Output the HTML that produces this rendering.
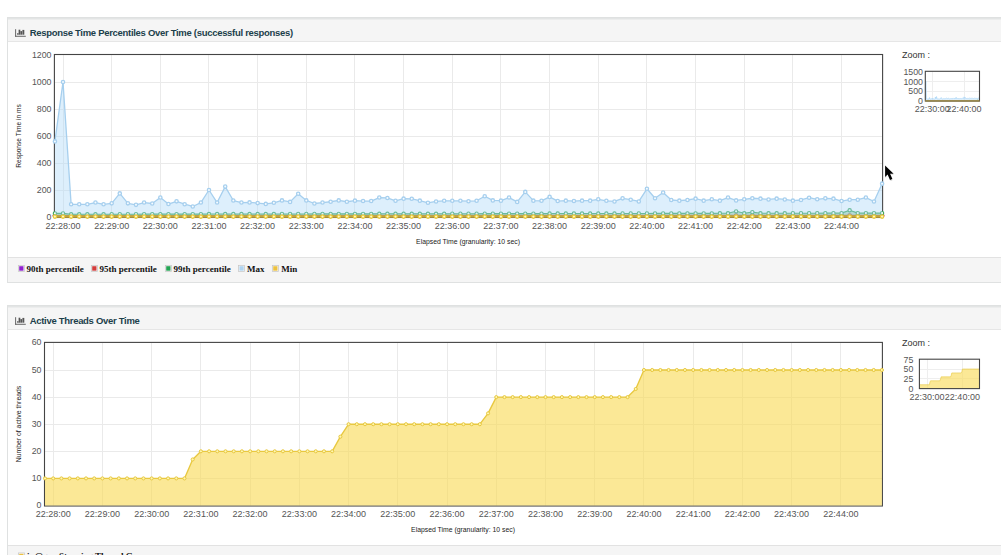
<!DOCTYPE html>
<html><head><meta charset="utf-8"><title>Dashboard</title>
<style>
html,body{margin:0;padding:0;}
body{width:1001px;height:555px;overflow:hidden;background:#fff;position:relative;font-family:"Liberation Sans",sans-serif;}
.panel{position:absolute;left:7px;width:1100px;border:1px solid #dfe1e1;box-sizing:border-box;background:#fff;}
.hd{position:absolute;left:0;right:0;top:0;height:22.5px;background:#f5f5f5;border-bottom:1px solid #e6e6e6;box-shadow:inset 0 1.5px 0 #e3e5e5;}
.ft{position:absolute;left:0;right:0;height:23.5px;background:#f5f5f5;border-top:1px solid #e2e2e2;}
.ttl{position:absolute;font-weight:bold;font-size:9.5px;letter-spacing:-0.30px;color:#1c3f4b;white-space:nowrap;line-height:12px;}
#c{position:absolute;left:0;top:0;}
.yt,.xt,.al,.zm,.lg{position:absolute;white-space:nowrap;line-height:11px;}
.yt{font-size:8.8px;color:#555;text-align:right;}
.xt{font-size:9px;color:#555;text-align:center;}
.al{font-size:6.85px;color:#222;line-height:8px;}
.rot{transform:translate(-50%,-50%) rotate(-90deg);font-size:6.6px;}
.zm{font-size:9px;color:#333;line-height:11px;}
.lg{font-family:"Liberation Serif",serif;font-weight:bold;font-size:9px;color:#111;line-height:11px;}
.sw{position:absolute;width:6.5px;height:6.5px;box-sizing:border-box;border:1px solid #ccc;padding:0.5px;background:#fff;}
.sw i{display:block;width:100%;height:100%;}
.ic{position:absolute;}
</style></head><body>
<div class="panel" style="top:17px;height:265.5px;"><div class="hd"></div><div class="ft" style="top:239px;"></div></div>
<div class="panel" style="top:305px;height:300px;"><div class="hd"></div><div class="ft" style="top:238.6px;"></div></div>

<div class="ttl" style="left:29.7px;top:27px;">Response Time Percentiles Over Time (successful responses)</div>

<div class="ttl" style="left:29.7px;top:315px;">Active Threads Over Time</div>
<svg id="c" width="1001" height="555" viewBox="0 0 1001 555">
<g stroke="#eaeaea" stroke-width="1">
<line x1="63.50" y1="55.00" x2="63.50" y2="217.00"/>
<line x1="111.50" y1="55.00" x2="111.50" y2="217.00"/>
<line x1="160.50" y1="55.00" x2="160.50" y2="217.00"/>
<line x1="208.50" y1="55.00" x2="208.50" y2="217.00"/>
<line x1="257.50" y1="55.00" x2="257.50" y2="217.00"/>
<line x1="306.50" y1="55.00" x2="306.50" y2="217.00"/>
<line x1="354.50" y1="55.00" x2="354.50" y2="217.00"/>
<line x1="403.50" y1="55.00" x2="403.50" y2="217.00"/>
<line x1="452.50" y1="55.00" x2="452.50" y2="217.00"/>
<line x1="500.50" y1="55.00" x2="500.50" y2="217.00"/>
<line x1="549.50" y1="55.00" x2="549.50" y2="217.00"/>
<line x1="598.50" y1="55.00" x2="598.50" y2="217.00"/>
<line x1="646.50" y1="55.00" x2="646.50" y2="217.00"/>
<line x1="695.50" y1="55.00" x2="695.50" y2="217.00"/>
<line x1="744.50" y1="55.00" x2="744.50" y2="217.00"/>
<line x1="792.50" y1="55.00" x2="792.50" y2="217.00"/>
<line x1="841.50" y1="55.00" x2="841.50" y2="217.00"/>
<line x1="54.90" y1="190.50" x2="882.10" y2="190.50"/>
<line x1="54.90" y1="163.50" x2="882.10" y2="163.50"/>
<line x1="54.90" y1="136.50" x2="882.10" y2="136.50"/>
<line x1="54.90" y1="109.50" x2="882.10" y2="109.50"/>
<line x1="54.90" y1="82.50" x2="882.10" y2="82.50"/>
</g>
<rect x="54.40" y="54.50" width="828.20" height="163.00" fill="none" stroke="#444" stroke-width="1.1"/>
<path d="M54.90 217.00 L54.90 215.78 L63.01 215.78 L71.12 215.91 L79.23 215.91 L87.34 215.90 L95.45 215.90 L103.56 215.89 L111.67 215.89 L119.78 215.88 L127.89 215.88 L136.00 215.87 L144.11 215.87 L152.22 215.86 L160.33 215.86 L168.44 215.85 L176.55 215.85 L184.66 215.84 L192.77 215.84 L200.88 215.83 L208.99 215.83 L217.10 215.82 L225.21 215.82 L233.32 215.82 L241.43 215.81 L249.54 215.81 L257.65 215.80 L265.75 215.80 L273.86 215.79 L281.97 215.79 L290.08 215.78 L298.19 215.78 L306.30 215.78 L314.41 215.78 L322.52 215.78 L330.63 215.78 L338.74 215.78 L346.85 215.78 L354.96 215.78 L363.07 215.78 L371.18 215.78 L379.29 215.78 L387.40 215.78 L395.51 215.78 L403.62 215.78 L411.73 215.78 L419.84 215.78 L427.95 215.78 L436.06 215.78 L444.17 215.78 L452.28 215.78 L460.39 215.78 L468.50 215.78 L476.61 215.78 L484.72 215.78 L492.83 215.78 L500.94 215.78 L509.05 215.78 L517.16 215.78 L525.27 215.78 L533.38 215.78 L541.49 215.78 L549.60 215.78 L557.71 215.78 L565.82 215.78 L573.93 215.78 L582.04 215.78 L590.15 215.78 L598.26 215.78 L606.37 215.78 L614.48 215.78 L622.59 215.78 L630.70 215.78 L638.81 215.78 L646.92 215.78 L655.03 215.78 L663.14 215.78 L671.25 215.78 L679.35 215.78 L687.46 215.78 L695.57 215.78 L703.68 215.78 L711.79 215.78 L719.90 215.78 L728.01 215.78 L736.12 215.78 L744.23 215.78 L752.34 215.78 L760.45 215.78 L768.56 215.78 L776.67 215.78 L784.78 215.78 L792.89 215.78 L801.00 215.78 L809.11 215.78 L817.22 215.78 L825.33 215.78 L833.44 215.78 L841.55 215.78 L849.66 215.78 L857.77 215.78 L865.88 215.78 L873.99 215.78 L882.10 215.78 L882.10 217.00 Z" fill="rgba(148,64,237,0.4)"/>
<path d="M54.90 215.78 L63.01 215.78 L71.12 215.91 L79.23 215.91 L87.34 215.90 L95.45 215.90 L103.56 215.89 L111.67 215.89 L119.78 215.88 L127.89 215.88 L136.00 215.87 L144.11 215.87 L152.22 215.86 L160.33 215.86 L168.44 215.85 L176.55 215.85 L184.66 215.84 L192.77 215.84 L200.88 215.83 L208.99 215.83 L217.10 215.82 L225.21 215.82 L233.32 215.82 L241.43 215.81 L249.54 215.81 L257.65 215.80 L265.75 215.80 L273.86 215.79 L281.97 215.79 L290.08 215.78 L298.19 215.78 L306.30 215.78 L314.41 215.78 L322.52 215.78 L330.63 215.78 L338.74 215.78 L346.85 215.78 L354.96 215.78 L363.07 215.78 L371.18 215.78 L379.29 215.78 L387.40 215.78 L395.51 215.78 L403.62 215.78 L411.73 215.78 L419.84 215.78 L427.95 215.78 L436.06 215.78 L444.17 215.78 L452.28 215.78 L460.39 215.78 L468.50 215.78 L476.61 215.78 L484.72 215.78 L492.83 215.78 L500.94 215.78 L509.05 215.78 L517.16 215.78 L525.27 215.78 L533.38 215.78 L541.49 215.78 L549.60 215.78 L557.71 215.78 L565.82 215.78 L573.93 215.78 L582.04 215.78 L590.15 215.78 L598.26 215.78 L606.37 215.78 L614.48 215.78 L622.59 215.78 L630.70 215.78 L638.81 215.78 L646.92 215.78 L655.03 215.78 L663.14 215.78 L671.25 215.78 L679.35 215.78 L687.46 215.78 L695.57 215.78 L703.68 215.78 L711.79 215.78 L719.90 215.78 L728.01 215.78 L736.12 215.78 L744.23 215.78 L752.34 215.78 L760.45 215.78 L768.56 215.78 L776.67 215.78 L784.78 215.78 L792.89 215.78 L801.00 215.78 L809.11 215.78 L817.22 215.78 L825.33 215.78 L833.44 215.78 L841.55 215.78 L849.66 215.78 L857.77 215.78 L865.88 215.78 L873.99 215.78 L882.10 215.78" fill="none" stroke="#9328dc" stroke-width="1.3" stroke-linejoin="round"/>
<g fill="#fff" stroke="#9328dc" stroke-width="1.3"><circle cx="54.90" cy="215.78" r="1.65"/><circle cx="63.01" cy="215.78" r="1.65"/><circle cx="71.12" cy="215.91" r="1.65"/><circle cx="79.23" cy="215.91" r="1.65"/><circle cx="87.34" cy="215.90" r="1.65"/><circle cx="95.45" cy="215.90" r="1.65"/><circle cx="103.56" cy="215.89" r="1.65"/><circle cx="111.67" cy="215.89" r="1.65"/><circle cx="119.78" cy="215.88" r="1.65"/><circle cx="127.89" cy="215.88" r="1.65"/><circle cx="136.00" cy="215.87" r="1.65"/><circle cx="144.11" cy="215.87" r="1.65"/><circle cx="152.22" cy="215.86" r="1.65"/><circle cx="160.33" cy="215.86" r="1.65"/><circle cx="168.44" cy="215.85" r="1.65"/><circle cx="176.55" cy="215.85" r="1.65"/><circle cx="184.66" cy="215.84" r="1.65"/><circle cx="192.77" cy="215.84" r="1.65"/><circle cx="200.88" cy="215.83" r="1.65"/><circle cx="208.99" cy="215.83" r="1.65"/><circle cx="217.10" cy="215.82" r="1.65"/><circle cx="225.21" cy="215.82" r="1.65"/><circle cx="233.32" cy="215.82" r="1.65"/><circle cx="241.43" cy="215.81" r="1.65"/><circle cx="249.54" cy="215.81" r="1.65"/><circle cx="257.65" cy="215.80" r="1.65"/><circle cx="265.75" cy="215.80" r="1.65"/><circle cx="273.86" cy="215.79" r="1.65"/><circle cx="281.97" cy="215.79" r="1.65"/><circle cx="290.08" cy="215.78" r="1.65"/><circle cx="298.19" cy="215.78" r="1.65"/><circle cx="306.30" cy="215.78" r="1.65"/><circle cx="314.41" cy="215.78" r="1.65"/><circle cx="322.52" cy="215.78" r="1.65"/><circle cx="330.63" cy="215.78" r="1.65"/><circle cx="338.74" cy="215.78" r="1.65"/><circle cx="346.85" cy="215.78" r="1.65"/><circle cx="354.96" cy="215.78" r="1.65"/><circle cx="363.07" cy="215.78" r="1.65"/><circle cx="371.18" cy="215.78" r="1.65"/><circle cx="379.29" cy="215.78" r="1.65"/><circle cx="387.40" cy="215.78" r="1.65"/><circle cx="395.51" cy="215.78" r="1.65"/><circle cx="403.62" cy="215.78" r="1.65"/><circle cx="411.73" cy="215.78" r="1.65"/><circle cx="419.84" cy="215.78" r="1.65"/><circle cx="427.95" cy="215.78" r="1.65"/><circle cx="436.06" cy="215.78" r="1.65"/><circle cx="444.17" cy="215.78" r="1.65"/><circle cx="452.28" cy="215.78" r="1.65"/><circle cx="460.39" cy="215.78" r="1.65"/><circle cx="468.50" cy="215.78" r="1.65"/><circle cx="476.61" cy="215.78" r="1.65"/><circle cx="484.72" cy="215.78" r="1.65"/><circle cx="492.83" cy="215.78" r="1.65"/><circle cx="500.94" cy="215.78" r="1.65"/><circle cx="509.05" cy="215.78" r="1.65"/><circle cx="517.16" cy="215.78" r="1.65"/><circle cx="525.27" cy="215.78" r="1.65"/><circle cx="533.38" cy="215.78" r="1.65"/><circle cx="541.49" cy="215.78" r="1.65"/><circle cx="549.60" cy="215.78" r="1.65"/><circle cx="557.71" cy="215.78" r="1.65"/><circle cx="565.82" cy="215.78" r="1.65"/><circle cx="573.93" cy="215.78" r="1.65"/><circle cx="582.04" cy="215.78" r="1.65"/><circle cx="590.15" cy="215.78" r="1.65"/><circle cx="598.26" cy="215.78" r="1.65"/><circle cx="606.37" cy="215.78" r="1.65"/><circle cx="614.48" cy="215.78" r="1.65"/><circle cx="622.59" cy="215.78" r="1.65"/><circle cx="630.70" cy="215.78" r="1.65"/><circle cx="638.81" cy="215.78" r="1.65"/><circle cx="646.92" cy="215.78" r="1.65"/><circle cx="655.03" cy="215.78" r="1.65"/><circle cx="663.14" cy="215.78" r="1.65"/><circle cx="671.25" cy="215.78" r="1.65"/><circle cx="679.35" cy="215.78" r="1.65"/><circle cx="687.46" cy="215.78" r="1.65"/><circle cx="695.57" cy="215.78" r="1.65"/><circle cx="703.68" cy="215.78" r="1.65"/><circle cx="711.79" cy="215.78" r="1.65"/><circle cx="719.90" cy="215.78" r="1.65"/><circle cx="728.01" cy="215.78" r="1.65"/><circle cx="736.12" cy="215.78" r="1.65"/><circle cx="744.23" cy="215.78" r="1.65"/><circle cx="752.34" cy="215.78" r="1.65"/><circle cx="760.45" cy="215.78" r="1.65"/><circle cx="768.56" cy="215.78" r="1.65"/><circle cx="776.67" cy="215.78" r="1.65"/><circle cx="784.78" cy="215.78" r="1.65"/><circle cx="792.89" cy="215.78" r="1.65"/><circle cx="801.00" cy="215.78" r="1.65"/><circle cx="809.11" cy="215.78" r="1.65"/><circle cx="817.22" cy="215.78" r="1.65"/><circle cx="825.33" cy="215.78" r="1.65"/><circle cx="833.44" cy="215.78" r="1.65"/><circle cx="841.55" cy="215.78" r="1.65"/><circle cx="849.66" cy="215.78" r="1.65"/><circle cx="857.77" cy="215.78" r="1.65"/><circle cx="865.88" cy="215.78" r="1.65"/><circle cx="873.99" cy="215.78" r="1.65"/><circle cx="882.10" cy="215.78" r="1.65"/></g>
<path d="M54.90 217.00 L54.90 215.51 L63.01 215.51 L71.12 215.64 L79.23 215.63 L87.34 215.63 L95.45 215.62 L103.56 215.61 L111.67 215.61 L119.78 215.60 L127.89 215.60 L136.00 215.59 L144.11 215.58 L152.22 215.58 L160.33 215.57 L168.44 215.57 L176.55 215.56 L184.66 215.55 L192.77 215.55 L200.88 215.54 L208.99 215.54 L217.10 215.53 L225.21 215.52 L233.32 215.52 L241.43 215.51 L249.54 215.51 L257.65 215.51 L265.75 215.51 L273.86 215.51 L281.97 215.51 L290.08 215.51 L298.19 215.51 L306.30 215.51 L314.41 215.51 L322.52 215.51 L330.63 215.51 L338.74 215.51 L346.85 215.51 L354.96 215.51 L363.07 215.51 L371.18 215.51 L379.29 215.51 L387.40 215.51 L395.51 215.51 L403.62 215.51 L411.73 215.51 L419.84 215.51 L427.95 215.51 L436.06 215.51 L444.17 215.51 L452.28 215.51 L460.39 215.51 L468.50 215.51 L476.61 215.51 L484.72 215.51 L492.83 215.51 L500.94 215.51 L509.05 215.51 L517.16 215.51 L525.27 215.51 L533.38 215.51 L541.49 215.51 L549.60 215.51 L557.71 215.51 L565.82 215.51 L573.93 215.51 L582.04 215.51 L590.15 215.51 L598.26 215.51 L606.37 215.51 L614.48 215.51 L622.59 215.51 L630.70 215.51 L638.81 215.51 L646.92 215.51 L655.03 215.51 L663.14 215.51 L671.25 215.51 L679.35 215.51 L687.46 215.51 L695.57 215.51 L703.68 215.51 L711.79 215.51 L719.90 215.51 L728.01 215.51 L736.12 215.51 L744.23 215.51 L752.34 215.51 L760.45 215.51 L768.56 215.51 L776.67 215.51 L784.78 215.51 L792.89 215.51 L801.00 215.51 L809.11 215.51 L817.22 215.51 L825.33 215.51 L833.44 215.51 L841.55 215.51 L849.66 215.51 L857.77 215.51 L865.88 215.51 L873.99 215.51 L882.10 215.51 L882.10 217.00 Z" fill="rgba(203,75,75,0.4)"/>
<path d="M54.90 215.51 L63.01 215.51 L71.12 215.64 L79.23 215.63 L87.34 215.63 L95.45 215.62 L103.56 215.61 L111.67 215.61 L119.78 215.60 L127.89 215.60 L136.00 215.59 L144.11 215.58 L152.22 215.58 L160.33 215.57 L168.44 215.57 L176.55 215.56 L184.66 215.55 L192.77 215.55 L200.88 215.54 L208.99 215.54 L217.10 215.53 L225.21 215.52 L233.32 215.52 L241.43 215.51 L249.54 215.51 L257.65 215.51 L265.75 215.51 L273.86 215.51 L281.97 215.51 L290.08 215.51 L298.19 215.51 L306.30 215.51 L314.41 215.51 L322.52 215.51 L330.63 215.51 L338.74 215.51 L346.85 215.51 L354.96 215.51 L363.07 215.51 L371.18 215.51 L379.29 215.51 L387.40 215.51 L395.51 215.51 L403.62 215.51 L411.73 215.51 L419.84 215.51 L427.95 215.51 L436.06 215.51 L444.17 215.51 L452.28 215.51 L460.39 215.51 L468.50 215.51 L476.61 215.51 L484.72 215.51 L492.83 215.51 L500.94 215.51 L509.05 215.51 L517.16 215.51 L525.27 215.51 L533.38 215.51 L541.49 215.51 L549.60 215.51 L557.71 215.51 L565.82 215.51 L573.93 215.51 L582.04 215.51 L590.15 215.51 L598.26 215.51 L606.37 215.51 L614.48 215.51 L622.59 215.51 L630.70 215.51 L638.81 215.51 L646.92 215.51 L655.03 215.51 L663.14 215.51 L671.25 215.51 L679.35 215.51 L687.46 215.51 L695.57 215.51 L703.68 215.51 L711.79 215.51 L719.90 215.51 L728.01 215.51 L736.12 215.51 L744.23 215.51 L752.34 215.51 L760.45 215.51 L768.56 215.51 L776.67 215.51 L784.78 215.51 L792.89 215.51 L801.00 215.51 L809.11 215.51 L817.22 215.51 L825.33 215.51 L833.44 215.51 L841.55 215.51 L849.66 215.51 L857.77 215.51 L865.88 215.51 L873.99 215.51 L882.10 215.51" fill="none" stroke="#d04545" stroke-width="1.3" stroke-linejoin="round"/>
<g fill="#fff" stroke="#d04545" stroke-width="1.3"><circle cx="54.90" cy="215.51" r="1.65"/><circle cx="63.01" cy="215.51" r="1.65"/><circle cx="71.12" cy="215.64" r="1.65"/><circle cx="79.23" cy="215.63" r="1.65"/><circle cx="87.34" cy="215.63" r="1.65"/><circle cx="95.45" cy="215.62" r="1.65"/><circle cx="103.56" cy="215.61" r="1.65"/><circle cx="111.67" cy="215.61" r="1.65"/><circle cx="119.78" cy="215.60" r="1.65"/><circle cx="127.89" cy="215.60" r="1.65"/><circle cx="136.00" cy="215.59" r="1.65"/><circle cx="144.11" cy="215.58" r="1.65"/><circle cx="152.22" cy="215.58" r="1.65"/><circle cx="160.33" cy="215.57" r="1.65"/><circle cx="168.44" cy="215.57" r="1.65"/><circle cx="176.55" cy="215.56" r="1.65"/><circle cx="184.66" cy="215.55" r="1.65"/><circle cx="192.77" cy="215.55" r="1.65"/><circle cx="200.88" cy="215.54" r="1.65"/><circle cx="208.99" cy="215.54" r="1.65"/><circle cx="217.10" cy="215.53" r="1.65"/><circle cx="225.21" cy="215.52" r="1.65"/><circle cx="233.32" cy="215.52" r="1.65"/><circle cx="241.43" cy="215.51" r="1.65"/><circle cx="249.54" cy="215.51" r="1.65"/><circle cx="257.65" cy="215.51" r="1.65"/><circle cx="265.75" cy="215.51" r="1.65"/><circle cx="273.86" cy="215.51" r="1.65"/><circle cx="281.97" cy="215.51" r="1.65"/><circle cx="290.08" cy="215.51" r="1.65"/><circle cx="298.19" cy="215.51" r="1.65"/><circle cx="306.30" cy="215.51" r="1.65"/><circle cx="314.41" cy="215.51" r="1.65"/><circle cx="322.52" cy="215.51" r="1.65"/><circle cx="330.63" cy="215.51" r="1.65"/><circle cx="338.74" cy="215.51" r="1.65"/><circle cx="346.85" cy="215.51" r="1.65"/><circle cx="354.96" cy="215.51" r="1.65"/><circle cx="363.07" cy="215.51" r="1.65"/><circle cx="371.18" cy="215.51" r="1.65"/><circle cx="379.29" cy="215.51" r="1.65"/><circle cx="387.40" cy="215.51" r="1.65"/><circle cx="395.51" cy="215.51" r="1.65"/><circle cx="403.62" cy="215.51" r="1.65"/><circle cx="411.73" cy="215.51" r="1.65"/><circle cx="419.84" cy="215.51" r="1.65"/><circle cx="427.95" cy="215.51" r="1.65"/><circle cx="436.06" cy="215.51" r="1.65"/><circle cx="444.17" cy="215.51" r="1.65"/><circle cx="452.28" cy="215.51" r="1.65"/><circle cx="460.39" cy="215.51" r="1.65"/><circle cx="468.50" cy="215.51" r="1.65"/><circle cx="476.61" cy="215.51" r="1.65"/><circle cx="484.72" cy="215.51" r="1.65"/><circle cx="492.83" cy="215.51" r="1.65"/><circle cx="500.94" cy="215.51" r="1.65"/><circle cx="509.05" cy="215.51" r="1.65"/><circle cx="517.16" cy="215.51" r="1.65"/><circle cx="525.27" cy="215.51" r="1.65"/><circle cx="533.38" cy="215.51" r="1.65"/><circle cx="541.49" cy="215.51" r="1.65"/><circle cx="549.60" cy="215.51" r="1.65"/><circle cx="557.71" cy="215.51" r="1.65"/><circle cx="565.82" cy="215.51" r="1.65"/><circle cx="573.93" cy="215.51" r="1.65"/><circle cx="582.04" cy="215.51" r="1.65"/><circle cx="590.15" cy="215.51" r="1.65"/><circle cx="598.26" cy="215.51" r="1.65"/><circle cx="606.37" cy="215.51" r="1.65"/><circle cx="614.48" cy="215.51" r="1.65"/><circle cx="622.59" cy="215.51" r="1.65"/><circle cx="630.70" cy="215.51" r="1.65"/><circle cx="638.81" cy="215.51" r="1.65"/><circle cx="646.92" cy="215.51" r="1.65"/><circle cx="655.03" cy="215.51" r="1.65"/><circle cx="663.14" cy="215.51" r="1.65"/><circle cx="671.25" cy="215.51" r="1.65"/><circle cx="679.35" cy="215.51" r="1.65"/><circle cx="687.46" cy="215.51" r="1.65"/><circle cx="695.57" cy="215.51" r="1.65"/><circle cx="703.68" cy="215.51" r="1.65"/><circle cx="711.79" cy="215.51" r="1.65"/><circle cx="719.90" cy="215.51" r="1.65"/><circle cx="728.01" cy="215.51" r="1.65"/><circle cx="736.12" cy="215.51" r="1.65"/><circle cx="744.23" cy="215.51" r="1.65"/><circle cx="752.34" cy="215.51" r="1.65"/><circle cx="760.45" cy="215.51" r="1.65"/><circle cx="768.56" cy="215.51" r="1.65"/><circle cx="776.67" cy="215.51" r="1.65"/><circle cx="784.78" cy="215.51" r="1.65"/><circle cx="792.89" cy="215.51" r="1.65"/><circle cx="801.00" cy="215.51" r="1.65"/><circle cx="809.11" cy="215.51" r="1.65"/><circle cx="817.22" cy="215.51" r="1.65"/><circle cx="825.33" cy="215.51" r="1.65"/><circle cx="833.44" cy="215.51" r="1.65"/><circle cx="841.55" cy="215.51" r="1.65"/><circle cx="849.66" cy="215.51" r="1.65"/><circle cx="857.77" cy="215.51" r="1.65"/><circle cx="865.88" cy="215.51" r="1.65"/><circle cx="873.99" cy="215.51" r="1.65"/><circle cx="882.10" cy="215.51" r="1.65"/></g>
<path d="M54.90 217.00 L54.90 213.35 L63.01 213.35 L71.12 214.28 L79.23 214.26 L87.34 214.25 L95.45 214.24 L103.56 214.23 L111.67 214.22 L119.78 214.20 L127.89 214.19 L136.00 214.18 L144.11 214.17 L152.22 214.16 L160.33 214.15 L168.44 214.13 L176.55 214.12 L184.66 214.11 L192.77 214.10 L200.88 214.09 L208.99 214.07 L217.10 214.06 L225.21 214.05 L233.32 214.04 L241.43 214.03 L249.54 214.01 L257.65 214.00 L265.75 213.99 L273.86 213.98 L281.97 213.97 L290.08 213.95 L298.19 213.94 L306.30 213.93 L314.41 213.92 L322.52 213.91 L330.63 213.90 L338.74 213.88 L346.85 213.87 L354.96 213.86 L363.07 213.85 L371.18 213.84 L379.29 213.82 L387.40 213.81 L395.51 213.80 L403.62 213.79 L411.73 213.78 L419.84 213.76 L427.95 213.75 L436.06 213.74 L444.17 213.73 L452.28 213.72 L460.39 213.70 L468.50 213.69 L476.61 213.68 L484.72 213.67 L492.83 213.66 L500.94 213.64 L509.05 213.63 L517.16 213.62 L525.27 213.61 L533.38 213.60 L541.49 213.59 L549.60 213.57 L557.71 213.56 L565.82 213.55 L573.93 213.54 L582.04 213.53 L590.15 213.51 L598.26 213.50 L606.37 213.49 L614.48 213.48 L622.59 213.47 L630.70 213.45 L638.81 213.44 L646.92 213.43 L655.03 213.42 L663.14 213.41 L671.25 213.39 L679.35 213.38 L687.46 213.37 L695.57 213.36 L703.68 213.35 L711.79 213.34 L719.90 213.32 L728.01 213.31 L736.12 211.33 L744.23 213.29 L752.34 212.14 L760.45 213.26 L768.56 213.25 L776.67 213.24 L784.78 213.23 L792.89 213.22 L801.00 213.20 L809.11 213.19 L817.22 213.18 L825.33 213.17 L833.44 213.16 L841.55 213.14 L849.66 210.25 L857.77 213.12 L865.88 213.11 L873.99 213.10 L882.10 213.09 L882.10 217.00 Z" fill="rgba(77,167,77,0.4)"/>
<path d="M54.90 213.35 L63.01 213.35 L71.12 214.28 L79.23 214.26 L87.34 214.25 L95.45 214.24 L103.56 214.23 L111.67 214.22 L119.78 214.20 L127.89 214.19 L136.00 214.18 L144.11 214.17 L152.22 214.16 L160.33 214.15 L168.44 214.13 L176.55 214.12 L184.66 214.11 L192.77 214.10 L200.88 214.09 L208.99 214.07 L217.10 214.06 L225.21 214.05 L233.32 214.04 L241.43 214.03 L249.54 214.01 L257.65 214.00 L265.75 213.99 L273.86 213.98 L281.97 213.97 L290.08 213.95 L298.19 213.94 L306.30 213.93 L314.41 213.92 L322.52 213.91 L330.63 213.90 L338.74 213.88 L346.85 213.87 L354.96 213.86 L363.07 213.85 L371.18 213.84 L379.29 213.82 L387.40 213.81 L395.51 213.80 L403.62 213.79 L411.73 213.78 L419.84 213.76 L427.95 213.75 L436.06 213.74 L444.17 213.73 L452.28 213.72 L460.39 213.70 L468.50 213.69 L476.61 213.68 L484.72 213.67 L492.83 213.66 L500.94 213.64 L509.05 213.63 L517.16 213.62 L525.27 213.61 L533.38 213.60 L541.49 213.59 L549.60 213.57 L557.71 213.56 L565.82 213.55 L573.93 213.54 L582.04 213.53 L590.15 213.51 L598.26 213.50 L606.37 213.49 L614.48 213.48 L622.59 213.47 L630.70 213.45 L638.81 213.44 L646.92 213.43 L655.03 213.42 L663.14 213.41 L671.25 213.39 L679.35 213.38 L687.46 213.37 L695.57 213.36 L703.68 213.35 L711.79 213.34 L719.90 213.32 L728.01 213.31 L736.12 211.33 L744.23 213.29 L752.34 212.14 L760.45 213.26 L768.56 213.25 L776.67 213.24 L784.78 213.23 L792.89 213.22 L801.00 213.20 L809.11 213.19 L817.22 213.18 L825.33 213.17 L833.44 213.16 L841.55 213.14 L849.66 210.25 L857.77 213.12 L865.88 213.11 L873.99 213.10 L882.10 213.09" fill="none" stroke="#3aa557" stroke-width="1.1" stroke-linejoin="round"/>
<g fill="#fff" stroke="#3aa557" stroke-width="1.1"><circle cx="54.90" cy="213.35" r="1.65"/><circle cx="63.01" cy="213.35" r="1.65"/><circle cx="71.12" cy="214.28" r="1.65"/><circle cx="79.23" cy="214.26" r="1.65"/><circle cx="87.34" cy="214.25" r="1.65"/><circle cx="95.45" cy="214.24" r="1.65"/><circle cx="103.56" cy="214.23" r="1.65"/><circle cx="111.67" cy="214.22" r="1.65"/><circle cx="119.78" cy="214.20" r="1.65"/><circle cx="127.89" cy="214.19" r="1.65"/><circle cx="136.00" cy="214.18" r="1.65"/><circle cx="144.11" cy="214.17" r="1.65"/><circle cx="152.22" cy="214.16" r="1.65"/><circle cx="160.33" cy="214.15" r="1.65"/><circle cx="168.44" cy="214.13" r="1.65"/><circle cx="176.55" cy="214.12" r="1.65"/><circle cx="184.66" cy="214.11" r="1.65"/><circle cx="192.77" cy="214.10" r="1.65"/><circle cx="200.88" cy="214.09" r="1.65"/><circle cx="208.99" cy="214.07" r="1.65"/><circle cx="217.10" cy="214.06" r="1.65"/><circle cx="225.21" cy="214.05" r="1.65"/><circle cx="233.32" cy="214.04" r="1.65"/><circle cx="241.43" cy="214.03" r="1.65"/><circle cx="249.54" cy="214.01" r="1.65"/><circle cx="257.65" cy="214.00" r="1.65"/><circle cx="265.75" cy="213.99" r="1.65"/><circle cx="273.86" cy="213.98" r="1.65"/><circle cx="281.97" cy="213.97" r="1.65"/><circle cx="290.08" cy="213.95" r="1.65"/><circle cx="298.19" cy="213.94" r="1.65"/><circle cx="306.30" cy="213.93" r="1.65"/><circle cx="314.41" cy="213.92" r="1.65"/><circle cx="322.52" cy="213.91" r="1.65"/><circle cx="330.63" cy="213.90" r="1.65"/><circle cx="338.74" cy="213.88" r="1.65"/><circle cx="346.85" cy="213.87" r="1.65"/><circle cx="354.96" cy="213.86" r="1.65"/><circle cx="363.07" cy="213.85" r="1.65"/><circle cx="371.18" cy="213.84" r="1.65"/><circle cx="379.29" cy="213.82" r="1.65"/><circle cx="387.40" cy="213.81" r="1.65"/><circle cx="395.51" cy="213.80" r="1.65"/><circle cx="403.62" cy="213.79" r="1.65"/><circle cx="411.73" cy="213.78" r="1.65"/><circle cx="419.84" cy="213.76" r="1.65"/><circle cx="427.95" cy="213.75" r="1.65"/><circle cx="436.06" cy="213.74" r="1.65"/><circle cx="444.17" cy="213.73" r="1.65"/><circle cx="452.28" cy="213.72" r="1.65"/><circle cx="460.39" cy="213.70" r="1.65"/><circle cx="468.50" cy="213.69" r="1.65"/><circle cx="476.61" cy="213.68" r="1.65"/><circle cx="484.72" cy="213.67" r="1.65"/><circle cx="492.83" cy="213.66" r="1.65"/><circle cx="500.94" cy="213.64" r="1.65"/><circle cx="509.05" cy="213.63" r="1.65"/><circle cx="517.16" cy="213.62" r="1.65"/><circle cx="525.27" cy="213.61" r="1.65"/><circle cx="533.38" cy="213.60" r="1.65"/><circle cx="541.49" cy="213.59" r="1.65"/><circle cx="549.60" cy="213.57" r="1.65"/><circle cx="557.71" cy="213.56" r="1.65"/><circle cx="565.82" cy="213.55" r="1.65"/><circle cx="573.93" cy="213.54" r="1.65"/><circle cx="582.04" cy="213.53" r="1.65"/><circle cx="590.15" cy="213.51" r="1.65"/><circle cx="598.26" cy="213.50" r="1.65"/><circle cx="606.37" cy="213.49" r="1.65"/><circle cx="614.48" cy="213.48" r="1.65"/><circle cx="622.59" cy="213.47" r="1.65"/><circle cx="630.70" cy="213.45" r="1.65"/><circle cx="638.81" cy="213.44" r="1.65"/><circle cx="646.92" cy="213.43" r="1.65"/><circle cx="655.03" cy="213.42" r="1.65"/><circle cx="663.14" cy="213.41" r="1.65"/><circle cx="671.25" cy="213.39" r="1.65"/><circle cx="679.35" cy="213.38" r="1.65"/><circle cx="687.46" cy="213.37" r="1.65"/><circle cx="695.57" cy="213.36" r="1.65"/><circle cx="703.68" cy="213.35" r="1.65"/><circle cx="711.79" cy="213.34" r="1.65"/><circle cx="719.90" cy="213.32" r="1.65"/><circle cx="728.01" cy="213.31" r="1.65"/><circle cx="736.12" cy="211.33" r="1.65"/><circle cx="744.23" cy="213.29" r="1.65"/><circle cx="752.34" cy="212.14" r="1.65"/><circle cx="760.45" cy="213.26" r="1.65"/><circle cx="768.56" cy="213.25" r="1.65"/><circle cx="776.67" cy="213.24" r="1.65"/><circle cx="784.78" cy="213.23" r="1.65"/><circle cx="792.89" cy="213.22" r="1.65"/><circle cx="801.00" cy="213.20" r="1.65"/><circle cx="809.11" cy="213.19" r="1.65"/><circle cx="817.22" cy="213.18" r="1.65"/><circle cx="825.33" cy="213.17" r="1.65"/><circle cx="833.44" cy="213.16" r="1.65"/><circle cx="841.55" cy="213.14" r="1.65"/><circle cx="849.66" cy="210.25" r="1.65"/><circle cx="857.77" cy="213.12" r="1.65"/><circle cx="865.88" cy="213.11" r="1.65"/><circle cx="873.99" cy="213.10" r="1.65"/><circle cx="882.10" cy="213.09" r="1.65"/></g>
<path d="M54.90 217.00 L54.90 141.40 L63.01 82.00 L71.12 204.31 L79.23 204.31 L87.34 204.31 L95.45 202.56 L103.56 204.31 L111.67 203.37 L119.78 193.38 L127.89 203.37 L136.00 204.85 L144.11 202.56 L152.22 203.50 L160.33 197.56 L168.44 204.04 L176.55 201.34 L184.66 204.18 L192.77 206.47 L200.88 202.56 L208.99 190.00 L217.10 202.56 L225.21 186.62 L233.32 200.53 L241.43 202.56 L249.54 202.42 L257.65 203.09 L265.75 203.91 L273.86 202.82 L281.97 200.40 L290.08 201.88 L298.19 193.78 L306.30 200.40 L314.41 203.50 L322.52 202.56 L330.63 201.75 L338.74 200.40 L346.85 201.75 L354.96 200.66 L363.07 201.07 L371.18 201.07 L379.29 197.56 L387.40 197.97 L395.51 200.80 L403.62 198.64 L411.73 198.78 L419.84 200.66 L427.95 202.82 L436.06 201.47 L444.17 200.80 L452.28 200.80 L460.39 200.80 L468.50 201.21 L476.61 200.80 L484.72 196.21 L492.83 200.40 L500.94 200.66 L509.05 197.56 L517.16 201.88 L525.27 191.89 L533.38 200.66 L541.49 200.80 L549.60 196.88 L557.71 201.07 L565.82 200.66 L573.93 201.07 L582.04 200.66 L590.15 200.66 L598.26 199.31 L606.37 200.80 L614.48 201.47 L622.59 198.37 L630.70 199.72 L638.81 201.47 L646.92 188.78 L655.03 198.24 L663.14 192.56 L671.25 199.99 L679.35 200.66 L687.46 199.99 L695.57 198.64 L703.68 200.66 L711.79 199.31 L719.90 200.66 L728.01 197.56 L736.12 200.40 L744.23 199.31 L752.34 198.24 L760.45 198.64 L768.56 199.45 L776.67 198.64 L784.78 199.45 L792.89 200.66 L801.00 199.99 L809.11 197.69 L817.22 199.31 L825.33 198.37 L833.44 198.64 L841.55 201.07 L849.66 199.72 L857.77 199.72 L865.88 197.56 L873.99 201.47 L882.10 183.66 L882.10 217.00 Z" fill="rgba(175,216,248,0.42)"/>
<path d="M54.90 141.40 L63.01 82.00 L71.12 204.31 L79.23 204.31 L87.34 204.31 L95.45 202.56 L103.56 204.31 L111.67 203.37 L119.78 193.38 L127.89 203.37 L136.00 204.85 L144.11 202.56 L152.22 203.50 L160.33 197.56 L168.44 204.04 L176.55 201.34 L184.66 204.18 L192.77 206.47 L200.88 202.56 L208.99 190.00 L217.10 202.56 L225.21 186.62 L233.32 200.53 L241.43 202.56 L249.54 202.42 L257.65 203.09 L265.75 203.91 L273.86 202.82 L281.97 200.40 L290.08 201.88 L298.19 193.78 L306.30 200.40 L314.41 203.50 L322.52 202.56 L330.63 201.75 L338.74 200.40 L346.85 201.75 L354.96 200.66 L363.07 201.07 L371.18 201.07 L379.29 197.56 L387.40 197.97 L395.51 200.80 L403.62 198.64 L411.73 198.78 L419.84 200.66 L427.95 202.82 L436.06 201.47 L444.17 200.80 L452.28 200.80 L460.39 200.80 L468.50 201.21 L476.61 200.80 L484.72 196.21 L492.83 200.40 L500.94 200.66 L509.05 197.56 L517.16 201.88 L525.27 191.89 L533.38 200.66 L541.49 200.80 L549.60 196.88 L557.71 201.07 L565.82 200.66 L573.93 201.07 L582.04 200.66 L590.15 200.66 L598.26 199.31 L606.37 200.80 L614.48 201.47 L622.59 198.37 L630.70 199.72 L638.81 201.47 L646.92 188.78 L655.03 198.24 L663.14 192.56 L671.25 199.99 L679.35 200.66 L687.46 199.99 L695.57 198.64 L703.68 200.66 L711.79 199.31 L719.90 200.66 L728.01 197.56 L736.12 200.40 L744.23 199.31 L752.34 198.24 L760.45 198.64 L768.56 199.45 L776.67 198.64 L784.78 199.45 L792.89 200.66 L801.00 199.99 L809.11 197.69 L817.22 199.31 L825.33 198.37 L833.44 198.64 L841.55 201.07 L849.66 199.72 L857.77 199.72 L865.88 197.56 L873.99 201.47 L882.10 183.66" fill="none" stroke="#a6cfee" stroke-width="1.3" stroke-linejoin="round"/>
<g fill="#f6fbff" stroke="#a6cfee" stroke-width="1.3"><circle cx="54.90" cy="141.40" r="1.65"/><circle cx="63.01" cy="82.00" r="1.65"/><circle cx="71.12" cy="204.31" r="1.65"/><circle cx="79.23" cy="204.31" r="1.65"/><circle cx="87.34" cy="204.31" r="1.65"/><circle cx="95.45" cy="202.56" r="1.65"/><circle cx="103.56" cy="204.31" r="1.65"/><circle cx="111.67" cy="203.37" r="1.65"/><circle cx="119.78" cy="193.38" r="1.65"/><circle cx="127.89" cy="203.37" r="1.65"/><circle cx="136.00" cy="204.85" r="1.65"/><circle cx="144.11" cy="202.56" r="1.65"/><circle cx="152.22" cy="203.50" r="1.65"/><circle cx="160.33" cy="197.56" r="1.65"/><circle cx="168.44" cy="204.04" r="1.65"/><circle cx="176.55" cy="201.34" r="1.65"/><circle cx="184.66" cy="204.18" r="1.65"/><circle cx="192.77" cy="206.47" r="1.65"/><circle cx="200.88" cy="202.56" r="1.65"/><circle cx="208.99" cy="190.00" r="1.65"/><circle cx="217.10" cy="202.56" r="1.65"/><circle cx="225.21" cy="186.62" r="1.65"/><circle cx="233.32" cy="200.53" r="1.65"/><circle cx="241.43" cy="202.56" r="1.65"/><circle cx="249.54" cy="202.42" r="1.65"/><circle cx="257.65" cy="203.09" r="1.65"/><circle cx="265.75" cy="203.91" r="1.65"/><circle cx="273.86" cy="202.82" r="1.65"/><circle cx="281.97" cy="200.40" r="1.65"/><circle cx="290.08" cy="201.88" r="1.65"/><circle cx="298.19" cy="193.78" r="1.65"/><circle cx="306.30" cy="200.40" r="1.65"/><circle cx="314.41" cy="203.50" r="1.65"/><circle cx="322.52" cy="202.56" r="1.65"/><circle cx="330.63" cy="201.75" r="1.65"/><circle cx="338.74" cy="200.40" r="1.65"/><circle cx="346.85" cy="201.75" r="1.65"/><circle cx="354.96" cy="200.66" r="1.65"/><circle cx="363.07" cy="201.07" r="1.65"/><circle cx="371.18" cy="201.07" r="1.65"/><circle cx="379.29" cy="197.56" r="1.65"/><circle cx="387.40" cy="197.97" r="1.65"/><circle cx="395.51" cy="200.80" r="1.65"/><circle cx="403.62" cy="198.64" r="1.65"/><circle cx="411.73" cy="198.78" r="1.65"/><circle cx="419.84" cy="200.66" r="1.65"/><circle cx="427.95" cy="202.82" r="1.65"/><circle cx="436.06" cy="201.47" r="1.65"/><circle cx="444.17" cy="200.80" r="1.65"/><circle cx="452.28" cy="200.80" r="1.65"/><circle cx="460.39" cy="200.80" r="1.65"/><circle cx="468.50" cy="201.21" r="1.65"/><circle cx="476.61" cy="200.80" r="1.65"/><circle cx="484.72" cy="196.21" r="1.65"/><circle cx="492.83" cy="200.40" r="1.65"/><circle cx="500.94" cy="200.66" r="1.65"/><circle cx="509.05" cy="197.56" r="1.65"/><circle cx="517.16" cy="201.88" r="1.65"/><circle cx="525.27" cy="191.89" r="1.65"/><circle cx="533.38" cy="200.66" r="1.65"/><circle cx="541.49" cy="200.80" r="1.65"/><circle cx="549.60" cy="196.88" r="1.65"/><circle cx="557.71" cy="201.07" r="1.65"/><circle cx="565.82" cy="200.66" r="1.65"/><circle cx="573.93" cy="201.07" r="1.65"/><circle cx="582.04" cy="200.66" r="1.65"/><circle cx="590.15" cy="200.66" r="1.65"/><circle cx="598.26" cy="199.31" r="1.65"/><circle cx="606.37" cy="200.80" r="1.65"/><circle cx="614.48" cy="201.47" r="1.65"/><circle cx="622.59" cy="198.37" r="1.65"/><circle cx="630.70" cy="199.72" r="1.65"/><circle cx="638.81" cy="201.47" r="1.65"/><circle cx="646.92" cy="188.78" r="1.65"/><circle cx="655.03" cy="198.24" r="1.65"/><circle cx="663.14" cy="192.56" r="1.65"/><circle cx="671.25" cy="199.99" r="1.65"/><circle cx="679.35" cy="200.66" r="1.65"/><circle cx="687.46" cy="199.99" r="1.65"/><circle cx="695.57" cy="198.64" r="1.65"/><circle cx="703.68" cy="200.66" r="1.65"/><circle cx="711.79" cy="199.31" r="1.65"/><circle cx="719.90" cy="200.66" r="1.65"/><circle cx="728.01" cy="197.56" r="1.65"/><circle cx="736.12" cy="200.40" r="1.65"/><circle cx="744.23" cy="199.31" r="1.65"/><circle cx="752.34" cy="198.24" r="1.65"/><circle cx="760.45" cy="198.64" r="1.65"/><circle cx="768.56" cy="199.45" r="1.65"/><circle cx="776.67" cy="198.64" r="1.65"/><circle cx="784.78" cy="199.45" r="1.65"/><circle cx="792.89" cy="200.66" r="1.65"/><circle cx="801.00" cy="199.99" r="1.65"/><circle cx="809.11" cy="197.69" r="1.65"/><circle cx="817.22" cy="199.31" r="1.65"/><circle cx="825.33" cy="198.37" r="1.65"/><circle cx="833.44" cy="198.64" r="1.65"/><circle cx="841.55" cy="201.07" r="1.65"/><circle cx="849.66" cy="199.72" r="1.65"/><circle cx="857.77" cy="199.72" r="1.65"/><circle cx="865.88" cy="197.56" r="1.65"/><circle cx="873.99" cy="201.47" r="1.65"/><circle cx="882.10" cy="183.66" r="1.65"/></g>
<path d="M54.90 217.00 L54.90 216.59 L63.01 216.59 L71.12 216.59 L79.23 216.59 L87.34 216.59 L95.45 216.59 L103.56 216.59 L111.67 216.59 L119.78 216.59 L127.89 216.59 L136.00 216.59 L144.11 216.59 L152.22 216.59 L160.33 216.59 L168.44 216.59 L176.55 216.59 L184.66 216.59 L192.77 216.59 L200.88 216.59 L208.99 216.59 L217.10 216.59 L225.21 216.59 L233.32 216.59 L241.43 216.59 L249.54 216.59 L257.65 216.59 L265.75 216.59 L273.86 216.59 L281.97 216.59 L290.08 216.59 L298.19 216.59 L306.30 216.59 L314.41 216.59 L322.52 216.59 L330.63 216.59 L338.74 216.59 L346.85 216.59 L354.96 216.59 L363.07 216.59 L371.18 216.59 L379.29 216.59 L387.40 216.59 L395.51 216.59 L403.62 216.59 L411.73 216.59 L419.84 216.59 L427.95 216.59 L436.06 216.59 L444.17 216.59 L452.28 216.59 L460.39 216.59 L468.50 216.59 L476.61 216.59 L484.72 216.59 L492.83 216.59 L500.94 216.59 L509.05 216.59 L517.16 216.59 L525.27 216.59 L533.38 216.59 L541.49 216.59 L549.60 216.59 L557.71 216.59 L565.82 216.59 L573.93 216.59 L582.04 216.59 L590.15 216.59 L598.26 216.59 L606.37 216.59 L614.48 216.59 L622.59 216.59 L630.70 216.59 L638.81 216.59 L646.92 216.59 L655.03 216.59 L663.14 216.59 L671.25 216.59 L679.35 216.59 L687.46 216.59 L695.57 216.59 L703.68 216.59 L711.79 216.59 L719.90 216.59 L728.01 216.59 L736.12 216.59 L744.23 216.59 L752.34 216.59 L760.45 216.59 L768.56 216.59 L776.67 216.59 L784.78 216.59 L792.89 216.59 L801.00 216.59 L809.11 216.59 L817.22 216.59 L825.33 216.59 L833.44 216.59 L841.55 216.59 L849.66 216.59 L857.77 216.59 L865.88 216.59 L873.99 216.59 L882.10 216.59 L882.10 217.00 Z" fill="rgba(237,194,64,0.4)"/>
<path d="M54.90 216.59 L63.01 216.59 L71.12 216.59 L79.23 216.59 L87.34 216.59 L95.45 216.59 L103.56 216.59 L111.67 216.59 L119.78 216.59 L127.89 216.59 L136.00 216.59 L144.11 216.59 L152.22 216.59 L160.33 216.59 L168.44 216.59 L176.55 216.59 L184.66 216.59 L192.77 216.59 L200.88 216.59 L208.99 216.59 L217.10 216.59 L225.21 216.59 L233.32 216.59 L241.43 216.59 L249.54 216.59 L257.65 216.59 L265.75 216.59 L273.86 216.59 L281.97 216.59 L290.08 216.59 L298.19 216.59 L306.30 216.59 L314.41 216.59 L322.52 216.59 L330.63 216.59 L338.74 216.59 L346.85 216.59 L354.96 216.59 L363.07 216.59 L371.18 216.59 L379.29 216.59 L387.40 216.59 L395.51 216.59 L403.62 216.59 L411.73 216.59 L419.84 216.59 L427.95 216.59 L436.06 216.59 L444.17 216.59 L452.28 216.59 L460.39 216.59 L468.50 216.59 L476.61 216.59 L484.72 216.59 L492.83 216.59 L500.94 216.59 L509.05 216.59 L517.16 216.59 L525.27 216.59 L533.38 216.59 L541.49 216.59 L549.60 216.59 L557.71 216.59 L565.82 216.59 L573.93 216.59 L582.04 216.59 L590.15 216.59 L598.26 216.59 L606.37 216.59 L614.48 216.59 L622.59 216.59 L630.70 216.59 L638.81 216.59 L646.92 216.59 L655.03 216.59 L663.14 216.59 L671.25 216.59 L679.35 216.59 L687.46 216.59 L695.57 216.59 L703.68 216.59 L711.79 216.59 L719.90 216.59 L728.01 216.59 L736.12 216.59 L744.23 216.59 L752.34 216.59 L760.45 216.59 L768.56 216.59 L776.67 216.59 L784.78 216.59 L792.89 216.59 L801.00 216.59 L809.11 216.59 L817.22 216.59 L825.33 216.59 L833.44 216.59 L841.55 216.59 L849.66 216.59 L857.77 216.59 L865.88 216.59 L873.99 216.59 L882.10 216.59" fill="none" stroke="#c4a638" stroke-width="2.5" stroke-linejoin="round"/>
<g fill="#fff6c0" stroke="#e8c83a" stroke-width="1.2"><circle cx="54.90" cy="216.59" r="1.7"/><circle cx="63.01" cy="216.59" r="1.7"/><circle cx="71.12" cy="216.59" r="1.7"/><circle cx="79.23" cy="216.59" r="1.7"/><circle cx="87.34" cy="216.59" r="1.7"/><circle cx="95.45" cy="216.59" r="1.7"/><circle cx="103.56" cy="216.59" r="1.7"/><circle cx="111.67" cy="216.59" r="1.7"/><circle cx="119.78" cy="216.59" r="1.7"/><circle cx="127.89" cy="216.59" r="1.7"/><circle cx="136.00" cy="216.59" r="1.7"/><circle cx="144.11" cy="216.59" r="1.7"/><circle cx="152.22" cy="216.59" r="1.7"/><circle cx="160.33" cy="216.59" r="1.7"/><circle cx="168.44" cy="216.59" r="1.7"/><circle cx="176.55" cy="216.59" r="1.7"/><circle cx="184.66" cy="216.59" r="1.7"/><circle cx="192.77" cy="216.59" r="1.7"/><circle cx="200.88" cy="216.59" r="1.7"/><circle cx="208.99" cy="216.59" r="1.7"/><circle cx="217.10" cy="216.59" r="1.7"/><circle cx="225.21" cy="216.59" r="1.7"/><circle cx="233.32" cy="216.59" r="1.7"/><circle cx="241.43" cy="216.59" r="1.7"/><circle cx="249.54" cy="216.59" r="1.7"/><circle cx="257.65" cy="216.59" r="1.7"/><circle cx="265.75" cy="216.59" r="1.7"/><circle cx="273.86" cy="216.59" r="1.7"/><circle cx="281.97" cy="216.59" r="1.7"/><circle cx="290.08" cy="216.59" r="1.7"/><circle cx="298.19" cy="216.59" r="1.7"/><circle cx="306.30" cy="216.59" r="1.7"/><circle cx="314.41" cy="216.59" r="1.7"/><circle cx="322.52" cy="216.59" r="1.7"/><circle cx="330.63" cy="216.59" r="1.7"/><circle cx="338.74" cy="216.59" r="1.7"/><circle cx="346.85" cy="216.59" r="1.7"/><circle cx="354.96" cy="216.59" r="1.7"/><circle cx="363.07" cy="216.59" r="1.7"/><circle cx="371.18" cy="216.59" r="1.7"/><circle cx="379.29" cy="216.59" r="1.7"/><circle cx="387.40" cy="216.59" r="1.7"/><circle cx="395.51" cy="216.59" r="1.7"/><circle cx="403.62" cy="216.59" r="1.7"/><circle cx="411.73" cy="216.59" r="1.7"/><circle cx="419.84" cy="216.59" r="1.7"/><circle cx="427.95" cy="216.59" r="1.7"/><circle cx="436.06" cy="216.59" r="1.7"/><circle cx="444.17" cy="216.59" r="1.7"/><circle cx="452.28" cy="216.59" r="1.7"/><circle cx="460.39" cy="216.59" r="1.7"/><circle cx="468.50" cy="216.59" r="1.7"/><circle cx="476.61" cy="216.59" r="1.7"/><circle cx="484.72" cy="216.59" r="1.7"/><circle cx="492.83" cy="216.59" r="1.7"/><circle cx="500.94" cy="216.59" r="1.7"/><circle cx="509.05" cy="216.59" r="1.7"/><circle cx="517.16" cy="216.59" r="1.7"/><circle cx="525.27" cy="216.59" r="1.7"/><circle cx="533.38" cy="216.59" r="1.7"/><circle cx="541.49" cy="216.59" r="1.7"/><circle cx="549.60" cy="216.59" r="1.7"/><circle cx="557.71" cy="216.59" r="1.7"/><circle cx="565.82" cy="216.59" r="1.7"/><circle cx="573.93" cy="216.59" r="1.7"/><circle cx="582.04" cy="216.59" r="1.7"/><circle cx="590.15" cy="216.59" r="1.7"/><circle cx="598.26" cy="216.59" r="1.7"/><circle cx="606.37" cy="216.59" r="1.7"/><circle cx="614.48" cy="216.59" r="1.7"/><circle cx="622.59" cy="216.59" r="1.7"/><circle cx="630.70" cy="216.59" r="1.7"/><circle cx="638.81" cy="216.59" r="1.7"/><circle cx="646.92" cy="216.59" r="1.7"/><circle cx="655.03" cy="216.59" r="1.7"/><circle cx="663.14" cy="216.59" r="1.7"/><circle cx="671.25" cy="216.59" r="1.7"/><circle cx="679.35" cy="216.59" r="1.7"/><circle cx="687.46" cy="216.59" r="1.7"/><circle cx="695.57" cy="216.59" r="1.7"/><circle cx="703.68" cy="216.59" r="1.7"/><circle cx="711.79" cy="216.59" r="1.7"/><circle cx="719.90" cy="216.59" r="1.7"/><circle cx="728.01" cy="216.59" r="1.7"/><circle cx="736.12" cy="216.59" r="1.7"/><circle cx="744.23" cy="216.59" r="1.7"/><circle cx="752.34" cy="216.59" r="1.7"/><circle cx="760.45" cy="216.59" r="1.7"/><circle cx="768.56" cy="216.59" r="1.7"/><circle cx="776.67" cy="216.59" r="1.7"/><circle cx="784.78" cy="216.59" r="1.7"/><circle cx="792.89" cy="216.59" r="1.7"/><circle cx="801.00" cy="216.59" r="1.7"/><circle cx="809.11" cy="216.59" r="1.7"/><circle cx="817.22" cy="216.59" r="1.7"/><circle cx="825.33" cy="216.59" r="1.7"/><circle cx="833.44" cy="216.59" r="1.7"/><circle cx="841.55" cy="216.59" r="1.7"/><circle cx="849.66" cy="216.59" r="1.7"/><circle cx="857.77" cy="216.59" r="1.7"/><circle cx="865.88" cy="216.59" r="1.7"/><circle cx="873.99" cy="216.59" r="1.7"/><circle cx="882.10" cy="216.59" r="1.7"/></g>
<g stroke="#eaeaea" stroke-width="1">
<line x1="53.50" y1="342.90" x2="53.50" y2="505.50"/>
<line x1="102.50" y1="342.90" x2="102.50" y2="505.50"/>
<line x1="151.50" y1="342.90" x2="151.50" y2="505.50"/>
<line x1="200.50" y1="342.90" x2="200.50" y2="505.50"/>
<line x1="250.50" y1="342.90" x2="250.50" y2="505.50"/>
<line x1="299.50" y1="342.90" x2="299.50" y2="505.50"/>
<line x1="348.50" y1="342.90" x2="348.50" y2="505.50"/>
<line x1="397.50" y1="342.90" x2="397.50" y2="505.50"/>
<line x1="447.50" y1="342.90" x2="447.50" y2="505.50"/>
<line x1="496.50" y1="342.90" x2="496.50" y2="505.50"/>
<line x1="545.50" y1="342.90" x2="545.50" y2="505.50"/>
<line x1="594.50" y1="342.90" x2="594.50" y2="505.50"/>
<line x1="643.50" y1="342.90" x2="643.50" y2="505.50"/>
<line x1="693.50" y1="342.90" x2="693.50" y2="505.50"/>
<line x1="742.50" y1="342.90" x2="742.50" y2="505.50"/>
<line x1="791.50" y1="342.90" x2="791.50" y2="505.50"/>
<line x1="840.50" y1="342.90" x2="840.50" y2="505.50"/>
<line x1="45.00" y1="478.50" x2="881.90" y2="478.50"/>
<line x1="45.00" y1="451.50" x2="881.90" y2="451.50"/>
<line x1="45.00" y1="424.50" x2="881.90" y2="424.50"/>
<line x1="45.00" y1="397.50" x2="881.90" y2="397.50"/>
<line x1="45.00" y1="370.50" x2="881.90" y2="370.50"/>
</g>
<rect x="44.50" y="342.40" width="837.90" height="163.60" fill="none" stroke="#444" stroke-width="1.1"/>
<path d="M45.00 505.50 L45.00 478.40 L53.20 478.40 L61.41 478.40 L69.61 478.40 L77.82 478.40 L86.02 478.40 L94.23 478.40 L102.43 478.40 L110.64 478.40 L118.84 478.40 L127.05 478.40 L135.25 478.40 L143.46 478.40 L151.66 478.40 L159.87 478.40 L168.07 478.40 L176.28 478.40 L184.48 478.40 L192.69 459.43 L200.89 451.30 L209.10 451.30 L217.30 451.30 L225.51 451.30 L233.71 451.30 L241.92 451.30 L250.12 451.30 L258.33 451.30 L266.53 451.30 L274.74 451.30 L282.94 451.30 L291.15 451.30 L299.35 451.30 L307.56 451.30 L315.76 451.30 L323.97 451.30 L332.17 451.30 L340.38 436.67 L348.58 424.20 L356.79 424.20 L364.99 424.20 L373.20 424.20 L381.40 424.20 L389.61 424.20 L397.81 424.20 L406.02 424.20 L414.22 424.20 L422.43 424.20 L430.63 424.20 L438.84 424.20 L447.04 424.20 L455.25 424.20 L463.45 424.20 L471.65 424.20 L479.86 424.20 L488.06 413.36 L496.27 397.10 L504.47 397.10 L512.68 397.10 L520.88 397.10 L529.09 397.10 L537.29 397.10 L545.50 397.10 L553.70 397.10 L561.91 397.10 L570.11 397.10 L578.32 397.10 L586.52 397.10 L594.73 397.10 L602.93 397.10 L611.14 397.10 L619.34 397.10 L627.55 397.10 L635.75 388.97 L643.96 370.00 L652.16 370.00 L660.37 370.00 L668.57 370.00 L676.78 370.00 L684.98 370.00 L693.19 370.00 L701.39 370.00 L709.60 370.00 L717.80 370.00 L726.01 370.00 L734.21 370.00 L742.42 370.00 L750.62 370.00 L758.83 370.00 L767.03 370.00 L775.24 370.00 L783.44 370.00 L791.65 370.00 L799.85 370.00 L808.06 370.00 L816.26 370.00 L824.47 370.00 L832.67 370.00 L840.88 370.00 L849.08 370.00 L857.29 370.00 L865.49 370.00 L873.70 370.00 L881.90 370.00 L881.90 505.50 Z" fill="rgba(249,218,86,0.62)"/>
<path d="M45.00 478.40 L53.20 478.40 L61.41 478.40 L69.61 478.40 L77.82 478.40 L86.02 478.40 L94.23 478.40 L102.43 478.40 L110.64 478.40 L118.84 478.40 L127.05 478.40 L135.25 478.40 L143.46 478.40 L151.66 478.40 L159.87 478.40 L168.07 478.40 L176.28 478.40 L184.48 478.40 L192.69 459.43 L200.89 451.30 L209.10 451.30 L217.30 451.30 L225.51 451.30 L233.71 451.30 L241.92 451.30 L250.12 451.30 L258.33 451.30 L266.53 451.30 L274.74 451.30 L282.94 451.30 L291.15 451.30 L299.35 451.30 L307.56 451.30 L315.76 451.30 L323.97 451.30 L332.17 451.30 L340.38 436.67 L348.58 424.20 L356.79 424.20 L364.99 424.20 L373.20 424.20 L381.40 424.20 L389.61 424.20 L397.81 424.20 L406.02 424.20 L414.22 424.20 L422.43 424.20 L430.63 424.20 L438.84 424.20 L447.04 424.20 L455.25 424.20 L463.45 424.20 L471.65 424.20 L479.86 424.20 L488.06 413.36 L496.27 397.10 L504.47 397.10 L512.68 397.10 L520.88 397.10 L529.09 397.10 L537.29 397.10 L545.50 397.10 L553.70 397.10 L561.91 397.10 L570.11 397.10 L578.32 397.10 L586.52 397.10 L594.73 397.10 L602.93 397.10 L611.14 397.10 L619.34 397.10 L627.55 397.10 L635.75 388.97 L643.96 370.00 L652.16 370.00 L660.37 370.00 L668.57 370.00 L676.78 370.00 L684.98 370.00 L693.19 370.00 L701.39 370.00 L709.60 370.00 L717.80 370.00 L726.01 370.00 L734.21 370.00 L742.42 370.00 L750.62 370.00 L758.83 370.00 L767.03 370.00 L775.24 370.00 L783.44 370.00 L791.65 370.00 L799.85 370.00 L808.06 370.00 L816.26 370.00 L824.47 370.00 L832.67 370.00 L840.88 370.00 L849.08 370.00 L857.29 370.00 L865.49 370.00 L873.70 370.00 L881.90 370.00" fill="none" stroke="#e8c840" stroke-width="1.35" stroke-linejoin="round"/>
<g fill="#fff6b0" stroke="#e6c53a" stroke-width="0.95"><circle cx="45.00" cy="478.40" r="1.55"/><circle cx="53.20" cy="478.40" r="1.55"/><circle cx="61.41" cy="478.40" r="1.55"/><circle cx="69.61" cy="478.40" r="1.55"/><circle cx="77.82" cy="478.40" r="1.55"/><circle cx="86.02" cy="478.40" r="1.55"/><circle cx="94.23" cy="478.40" r="1.55"/><circle cx="102.43" cy="478.40" r="1.55"/><circle cx="110.64" cy="478.40" r="1.55"/><circle cx="118.84" cy="478.40" r="1.55"/><circle cx="127.05" cy="478.40" r="1.55"/><circle cx="135.25" cy="478.40" r="1.55"/><circle cx="143.46" cy="478.40" r="1.55"/><circle cx="151.66" cy="478.40" r="1.55"/><circle cx="159.87" cy="478.40" r="1.55"/><circle cx="168.07" cy="478.40" r="1.55"/><circle cx="176.28" cy="478.40" r="1.55"/><circle cx="184.48" cy="478.40" r="1.55"/><circle cx="192.69" cy="459.43" r="1.55"/><circle cx="200.89" cy="451.30" r="1.55"/><circle cx="209.10" cy="451.30" r="1.55"/><circle cx="217.30" cy="451.30" r="1.55"/><circle cx="225.51" cy="451.30" r="1.55"/><circle cx="233.71" cy="451.30" r="1.55"/><circle cx="241.92" cy="451.30" r="1.55"/><circle cx="250.12" cy="451.30" r="1.55"/><circle cx="258.33" cy="451.30" r="1.55"/><circle cx="266.53" cy="451.30" r="1.55"/><circle cx="274.74" cy="451.30" r="1.55"/><circle cx="282.94" cy="451.30" r="1.55"/><circle cx="291.15" cy="451.30" r="1.55"/><circle cx="299.35" cy="451.30" r="1.55"/><circle cx="307.56" cy="451.30" r="1.55"/><circle cx="315.76" cy="451.30" r="1.55"/><circle cx="323.97" cy="451.30" r="1.55"/><circle cx="332.17" cy="451.30" r="1.55"/><circle cx="340.38" cy="436.67" r="1.55"/><circle cx="348.58" cy="424.20" r="1.55"/><circle cx="356.79" cy="424.20" r="1.55"/><circle cx="364.99" cy="424.20" r="1.55"/><circle cx="373.20" cy="424.20" r="1.55"/><circle cx="381.40" cy="424.20" r="1.55"/><circle cx="389.61" cy="424.20" r="1.55"/><circle cx="397.81" cy="424.20" r="1.55"/><circle cx="406.02" cy="424.20" r="1.55"/><circle cx="414.22" cy="424.20" r="1.55"/><circle cx="422.43" cy="424.20" r="1.55"/><circle cx="430.63" cy="424.20" r="1.55"/><circle cx="438.84" cy="424.20" r="1.55"/><circle cx="447.04" cy="424.20" r="1.55"/><circle cx="455.25" cy="424.20" r="1.55"/><circle cx="463.45" cy="424.20" r="1.55"/><circle cx="471.65" cy="424.20" r="1.55"/><circle cx="479.86" cy="424.20" r="1.55"/><circle cx="488.06" cy="413.36" r="1.55"/><circle cx="496.27" cy="397.10" r="1.55"/><circle cx="504.47" cy="397.10" r="1.55"/><circle cx="512.68" cy="397.10" r="1.55"/><circle cx="520.88" cy="397.10" r="1.55"/><circle cx="529.09" cy="397.10" r="1.55"/><circle cx="537.29" cy="397.10" r="1.55"/><circle cx="545.50" cy="397.10" r="1.55"/><circle cx="553.70" cy="397.10" r="1.55"/><circle cx="561.91" cy="397.10" r="1.55"/><circle cx="570.11" cy="397.10" r="1.55"/><circle cx="578.32" cy="397.10" r="1.55"/><circle cx="586.52" cy="397.10" r="1.55"/><circle cx="594.73" cy="397.10" r="1.55"/><circle cx="602.93" cy="397.10" r="1.55"/><circle cx="611.14" cy="397.10" r="1.55"/><circle cx="619.34" cy="397.10" r="1.55"/><circle cx="627.55" cy="397.10" r="1.55"/><circle cx="635.75" cy="388.97" r="1.55"/><circle cx="643.96" cy="370.00" r="1.55"/><circle cx="652.16" cy="370.00" r="1.55"/><circle cx="660.37" cy="370.00" r="1.55"/><circle cx="668.57" cy="370.00" r="1.55"/><circle cx="676.78" cy="370.00" r="1.55"/><circle cx="684.98" cy="370.00" r="1.55"/><circle cx="693.19" cy="370.00" r="1.55"/><circle cx="701.39" cy="370.00" r="1.55"/><circle cx="709.60" cy="370.00" r="1.55"/><circle cx="717.80" cy="370.00" r="1.55"/><circle cx="726.01" cy="370.00" r="1.55"/><circle cx="734.21" cy="370.00" r="1.55"/><circle cx="742.42" cy="370.00" r="1.55"/><circle cx="750.62" cy="370.00" r="1.55"/><circle cx="758.83" cy="370.00" r="1.55"/><circle cx="767.03" cy="370.00" r="1.55"/><circle cx="775.24" cy="370.00" r="1.55"/><circle cx="783.44" cy="370.00" r="1.55"/><circle cx="791.65" cy="370.00" r="1.55"/><circle cx="799.85" cy="370.00" r="1.55"/><circle cx="808.06" cy="370.00" r="1.55"/><circle cx="816.26" cy="370.00" r="1.55"/><circle cx="824.47" cy="370.00" r="1.55"/><circle cx="832.67" cy="370.00" r="1.55"/><circle cx="840.88" cy="370.00" r="1.55"/><circle cx="849.08" cy="370.00" r="1.55"/><circle cx="857.29" cy="370.00" r="1.55"/><circle cx="865.49" cy="370.00" r="1.55"/><circle cx="873.70" cy="370.00" r="1.55"/><circle cx="881.90" cy="370.00" r="1.55"/></g>
<g stroke="#eeeeee" stroke-width="1">
<line x1="932.50" y1="71.30" x2="932.50" y2="101.00"/>
<line x1="964.50" y1="71.30" x2="964.50" y2="101.00"/>
<line x1="925.30" y1="91.50" x2="979.50" y2="91.50"/>
<line x1="925.30" y1="81.50" x2="979.50" y2="81.50"/>
</g>
<path d="M925.30 101.00 L925.30 89.91 L925.83 81.20 L926.36 99.14 L926.89 99.14 L927.43 99.14 L927.96 98.88 L928.49 99.14 L929.02 99.00 L929.55 97.53 L930.08 99.00 L930.61 99.22 L931.15 98.88 L931.68 99.02 L932.21 98.15 L932.74 99.10 L933.27 98.70 L933.80 99.12 L934.33 99.46 L934.86 98.88 L935.40 97.04 L935.93 98.88 L936.46 96.55 L936.99 98.58 L937.52 98.88 L938.05 98.86 L938.58 98.96 L939.12 99.08 L939.65 98.92 L940.18 98.56 L940.71 98.78 L941.24 97.59 L941.77 98.56 L942.30 99.02 L942.84 98.88 L943.37 98.76 L943.90 98.56 L944.43 98.76 L944.96 98.60 L945.49 98.66 L946.02 98.66 L946.55 98.15 L947.09 98.21 L947.62 98.62 L948.15 98.31 L948.68 98.33 L949.21 98.60 L949.74 98.92 L950.27 98.72 L950.81 98.62 L951.34 98.62 L951.87 98.62 L952.40 98.68 L952.93 98.62 L953.46 97.95 L953.99 98.56 L954.53 98.60 L955.06 98.15 L955.59 98.78 L956.12 97.32 L956.65 98.60 L957.18 98.62 L957.71 98.05 L958.25 98.66 L958.78 98.60 L959.31 98.66 L959.84 98.60 L960.37 98.60 L960.90 98.41 L961.43 98.62 L961.96 98.72 L962.50 98.27 L963.03 98.47 L963.56 98.72 L964.09 96.86 L964.62 98.25 L965.15 97.42 L965.68 98.51 L966.22 98.60 L966.75 98.51 L967.28 98.31 L967.81 98.60 L968.34 98.41 L968.87 98.60 L969.40 98.15 L969.94 98.56 L970.47 98.41 L971.00 98.25 L971.53 98.31 L972.06 98.43 L972.59 98.31 L973.12 98.43 L973.65 98.60 L974.19 98.51 L974.72 98.17 L975.25 98.41 L975.78 98.27 L976.31 98.31 L976.84 98.66 L977.37 98.47 L977.91 98.47 L978.44 98.15 L978.97 98.72 L979.50 96.11 L979.50 101.00 Z" fill="rgba(175,216,248,0.4)"/><path d="M925.30 89.91 L925.83 81.20 L926.36 99.14 L926.89 99.14 L927.43 99.14 L927.96 98.88 L928.49 99.14 L929.02 99.00 L929.55 97.53 L930.08 99.00 L930.61 99.22 L931.15 98.88 L931.68 99.02 L932.21 98.15 L932.74 99.10 L933.27 98.70 L933.80 99.12 L934.33 99.46 L934.86 98.88 L935.40 97.04 L935.93 98.88 L936.46 96.55 L936.99 98.58 L937.52 98.88 L938.05 98.86 L938.58 98.96 L939.12 99.08 L939.65 98.92 L940.18 98.56 L940.71 98.78 L941.24 97.59 L941.77 98.56 L942.30 99.02 L942.84 98.88 L943.37 98.76 L943.90 98.56 L944.43 98.76 L944.96 98.60 L945.49 98.66 L946.02 98.66 L946.55 98.15 L947.09 98.21 L947.62 98.62 L948.15 98.31 L948.68 98.33 L949.21 98.60 L949.74 98.92 L950.27 98.72 L950.81 98.62 L951.34 98.62 L951.87 98.62 L952.40 98.68 L952.93 98.62 L953.46 97.95 L953.99 98.56 L954.53 98.60 L955.06 98.15 L955.59 98.78 L956.12 97.32 L956.65 98.60 L957.18 98.62 L957.71 98.05 L958.25 98.66 L958.78 98.60 L959.31 98.66 L959.84 98.60 L960.37 98.60 L960.90 98.41 L961.43 98.62 L961.96 98.72 L962.50 98.27 L963.03 98.47 L963.56 98.72 L964.09 96.86 L964.62 98.25 L965.15 97.42 L965.68 98.51 L966.22 98.60 L966.75 98.51 L967.28 98.31 L967.81 98.60 L968.34 98.41 L968.87 98.60 L969.40 98.15 L969.94 98.56 L970.47 98.41 L971.00 98.25 L971.53 98.31 L972.06 98.43 L972.59 98.31 L973.12 98.43 L973.65 98.60 L974.19 98.51 L974.72 98.17 L975.25 98.41 L975.78 98.27 L976.31 98.31 L976.84 98.66 L977.37 98.47 L977.91 98.47 L978.44 98.15 L978.97 98.72 L979.50 96.11" fill="none" stroke="#afd8f8" stroke-width="0.8"/>
<path d="M925.30 101.00 L925.30 100.47 L925.83 100.47 L926.36 100.60 L926.89 100.60 L927.43 100.60 L927.96 100.60 L928.49 100.59 L929.02 100.59 L929.55 100.59 L930.08 100.59 L930.61 100.59 L931.15 100.58 L931.68 100.58 L932.21 100.58 L932.74 100.58 L933.27 100.58 L933.80 100.58 L934.33 100.57 L934.86 100.57 L935.40 100.57 L935.93 100.57 L936.46 100.57 L936.99 100.57 L937.52 100.56 L938.05 100.56 L938.58 100.56 L939.12 100.56 L939.65 100.56 L940.18 100.56 L940.71 100.55 L941.24 100.55 L941.77 100.55 L942.30 100.55 L942.84 100.55 L943.37 100.54 L943.90 100.54 L944.43 100.54 L944.96 100.54 L945.49 100.54 L946.02 100.54 L946.55 100.53 L947.09 100.53 L947.62 100.53 L948.15 100.53 L948.68 100.53 L949.21 100.53 L949.74 100.52 L950.27 100.52 L950.81 100.52 L951.34 100.52 L951.87 100.52 L952.40 100.51 L952.93 100.51 L953.46 100.51 L953.99 100.51 L954.53 100.51 L955.06 100.51 L955.59 100.50 L956.12 100.50 L956.65 100.50 L957.18 100.50 L957.71 100.50 L958.25 100.50 L958.78 100.49 L959.31 100.49 L959.84 100.49 L960.37 100.49 L960.90 100.49 L961.43 100.49 L961.96 100.48 L962.50 100.48 L963.03 100.48 L963.56 100.48 L964.09 100.48 L964.62 100.47 L965.15 100.47 L965.68 100.47 L966.22 100.47 L966.75 100.47 L967.28 100.47 L967.81 100.46 L968.34 100.46 L968.87 100.46 L969.40 100.46 L969.94 100.17 L970.47 100.46 L971.00 100.29 L971.53 100.45 L972.06 100.45 L972.59 100.45 L973.12 100.45 L973.65 100.45 L974.19 100.44 L974.72 100.44 L975.25 100.44 L975.78 100.44 L976.31 100.44 L976.84 100.43 L977.37 100.01 L977.91 100.43 L978.44 100.43 L978.97 100.43 L979.50 100.43 L979.50 101.00 Z" fill="rgba(77,167,77,0.4)"/><path d="M925.30 100.47 L925.83 100.47 L926.36 100.60 L926.89 100.60 L927.43 100.60 L927.96 100.60 L928.49 100.59 L929.02 100.59 L929.55 100.59 L930.08 100.59 L930.61 100.59 L931.15 100.58 L931.68 100.58 L932.21 100.58 L932.74 100.58 L933.27 100.58 L933.80 100.58 L934.33 100.57 L934.86 100.57 L935.40 100.57 L935.93 100.57 L936.46 100.57 L936.99 100.57 L937.52 100.56 L938.05 100.56 L938.58 100.56 L939.12 100.56 L939.65 100.56 L940.18 100.56 L940.71 100.55 L941.24 100.55 L941.77 100.55 L942.30 100.55 L942.84 100.55 L943.37 100.54 L943.90 100.54 L944.43 100.54 L944.96 100.54 L945.49 100.54 L946.02 100.54 L946.55 100.53 L947.09 100.53 L947.62 100.53 L948.15 100.53 L948.68 100.53 L949.21 100.53 L949.74 100.52 L950.27 100.52 L950.81 100.52 L951.34 100.52 L951.87 100.52 L952.40 100.51 L952.93 100.51 L953.46 100.51 L953.99 100.51 L954.53 100.51 L955.06 100.51 L955.59 100.50 L956.12 100.50 L956.65 100.50 L957.18 100.50 L957.71 100.50 L958.25 100.50 L958.78 100.49 L959.31 100.49 L959.84 100.49 L960.37 100.49 L960.90 100.49 L961.43 100.49 L961.96 100.48 L962.50 100.48 L963.03 100.48 L963.56 100.48 L964.09 100.48 L964.62 100.47 L965.15 100.47 L965.68 100.47 L966.22 100.47 L966.75 100.47 L967.28 100.47 L967.81 100.46 L968.34 100.46 L968.87 100.46 L969.40 100.46 L969.94 100.17 L970.47 100.46 L971.00 100.29 L971.53 100.45 L972.06 100.45 L972.59 100.45 L973.12 100.45 L973.65 100.45 L974.19 100.44 L974.72 100.44 L975.25 100.44 L975.78 100.44 L976.31 100.44 L976.84 100.43 L977.37 100.01 L977.91 100.43 L978.44 100.43 L978.97 100.43 L979.50 100.43" fill="none" stroke="#4da74d" stroke-width="0.5"/>
<path d="M925.30 101.00 L925.30 100.94 L925.83 100.94 L926.36 100.94 L926.89 100.94 L927.43 100.94 L927.96 100.94 L928.49 100.94 L929.02 100.94 L929.55 100.94 L930.08 100.94 L930.61 100.94 L931.15 100.94 L931.68 100.94 L932.21 100.94 L932.74 100.94 L933.27 100.94 L933.80 100.94 L934.33 100.94 L934.86 100.94 L935.40 100.94 L935.93 100.94 L936.46 100.94 L936.99 100.94 L937.52 100.94 L938.05 100.94 L938.58 100.94 L939.12 100.94 L939.65 100.94 L940.18 100.94 L940.71 100.94 L941.24 100.94 L941.77 100.94 L942.30 100.94 L942.84 100.94 L943.37 100.94 L943.90 100.94 L944.43 100.94 L944.96 100.94 L945.49 100.94 L946.02 100.94 L946.55 100.94 L947.09 100.94 L947.62 100.94 L948.15 100.94 L948.68 100.94 L949.21 100.94 L949.74 100.94 L950.27 100.94 L950.81 100.94 L951.34 100.94 L951.87 100.94 L952.40 100.94 L952.93 100.94 L953.46 100.94 L953.99 100.94 L954.53 100.94 L955.06 100.94 L955.59 100.94 L956.12 100.94 L956.65 100.94 L957.18 100.94 L957.71 100.94 L958.25 100.94 L958.78 100.94 L959.31 100.94 L959.84 100.94 L960.37 100.94 L960.90 100.94 L961.43 100.94 L961.96 100.94 L962.50 100.94 L963.03 100.94 L963.56 100.94 L964.09 100.94 L964.62 100.94 L965.15 100.94 L965.68 100.94 L966.22 100.94 L966.75 100.94 L967.28 100.94 L967.81 100.94 L968.34 100.94 L968.87 100.94 L969.40 100.94 L969.94 100.94 L970.47 100.94 L971.00 100.94 L971.53 100.94 L972.06 100.94 L972.59 100.94 L973.12 100.94 L973.65 100.94 L974.19 100.94 L974.72 100.94 L975.25 100.94 L975.78 100.94 L976.31 100.94 L976.84 100.94 L977.37 100.94 L977.91 100.94 L978.44 100.94 L978.97 100.94 L979.50 100.94 L979.50 101.00 Z" fill="rgba(237,194,64,0.4)"/><path d="M925.30 100.94 L925.83 100.94 L926.36 100.94 L926.89 100.94 L927.43 100.94 L927.96 100.94 L928.49 100.94 L929.02 100.94 L929.55 100.94 L930.08 100.94 L930.61 100.94 L931.15 100.94 L931.68 100.94 L932.21 100.94 L932.74 100.94 L933.27 100.94 L933.80 100.94 L934.33 100.94 L934.86 100.94 L935.40 100.94 L935.93 100.94 L936.46 100.94 L936.99 100.94 L937.52 100.94 L938.05 100.94 L938.58 100.94 L939.12 100.94 L939.65 100.94 L940.18 100.94 L940.71 100.94 L941.24 100.94 L941.77 100.94 L942.30 100.94 L942.84 100.94 L943.37 100.94 L943.90 100.94 L944.43 100.94 L944.96 100.94 L945.49 100.94 L946.02 100.94 L946.55 100.94 L947.09 100.94 L947.62 100.94 L948.15 100.94 L948.68 100.94 L949.21 100.94 L949.74 100.94 L950.27 100.94 L950.81 100.94 L951.34 100.94 L951.87 100.94 L952.40 100.94 L952.93 100.94 L953.46 100.94 L953.99 100.94 L954.53 100.94 L955.06 100.94 L955.59 100.94 L956.12 100.94 L956.65 100.94 L957.18 100.94 L957.71 100.94 L958.25 100.94 L958.78 100.94 L959.31 100.94 L959.84 100.94 L960.37 100.94 L960.90 100.94 L961.43 100.94 L961.96 100.94 L962.50 100.94 L963.03 100.94 L963.56 100.94 L964.09 100.94 L964.62 100.94 L965.15 100.94 L965.68 100.94 L966.22 100.94 L966.75 100.94 L967.28 100.94 L967.81 100.94 L968.34 100.94 L968.87 100.94 L969.40 100.94 L969.94 100.94 L970.47 100.94 L971.00 100.94 L971.53 100.94 L972.06 100.94 L972.59 100.94 L973.12 100.94 L973.65 100.94 L974.19 100.94 L974.72 100.94 L975.25 100.94 L975.78 100.94 L976.31 100.94 L976.84 100.94 L977.37 100.94 L977.91 100.94 L978.44 100.94 L978.97 100.94 L979.50 100.94" fill="none" stroke="#edc240" stroke-width="1"/>
<rect x="925.30" y="71.30" width="54.20" height="29.70" fill="none" stroke="#444" stroke-width="1.1"/>
<line x1="925.30" y1="100.70" x2="979.50" y2="100.70" stroke="#9a8a50" stroke-width="1.6"/>
<g stroke="#eeeeee" stroke-width="1">
<line x1="927.50" y1="359.20" x2="927.50" y2="388.60"/>
<line x1="962.50" y1="359.20" x2="962.50" y2="388.60"/>
<line x1="919.40" y1="378.50" x2="979.50" y2="378.50"/>
<line x1="919.40" y1="369.50" x2="979.50" y2="369.50"/>
</g>
<path d="M919.40 388.60 L919.40 384.68 L919.99 384.68 L920.58 384.68 L921.17 384.68 L921.76 384.68 L922.35 384.68 L922.94 384.68 L923.52 384.68 L924.11 384.68 L924.70 384.68 L925.29 384.68 L925.88 384.68 L926.47 384.68 L927.06 384.68 L927.65 384.68 L928.24 384.68 L928.83 384.68 L929.42 384.68 L930.01 381.94 L930.60 380.76 L931.18 380.76 L931.77 380.76 L932.36 380.76 L932.95 380.76 L933.54 380.76 L934.13 380.76 L934.72 380.76 L935.31 380.76 L935.90 380.76 L936.49 380.76 L937.08 380.76 L937.67 380.76 L938.25 380.76 L938.84 380.76 L939.43 380.76 L940.02 380.76 L940.61 378.64 L941.20 376.84 L941.79 376.84 L942.38 376.84 L942.97 376.84 L943.56 376.84 L944.15 376.84 L944.74 376.84 L945.33 376.84 L945.91 376.84 L946.50 376.84 L947.09 376.84 L947.68 376.84 L948.27 376.84 L948.86 376.84 L949.45 376.84 L950.04 376.84 L950.63 376.84 L951.22 375.27 L951.81 372.92 L952.40 372.92 L952.99 372.92 L953.57 372.92 L954.16 372.92 L954.75 372.92 L955.34 372.92 L955.93 372.92 L956.52 372.92 L957.11 372.92 L957.70 372.92 L958.29 372.92 L958.88 372.92 L959.47 372.92 L960.06 372.92 L960.65 372.92 L961.23 372.92 L961.82 371.74 L962.41 369.00 L963.00 369.00 L963.59 369.00 L964.18 369.00 L964.77 369.00 L965.36 369.00 L965.95 369.00 L966.54 369.00 L967.13 369.00 L967.72 369.00 L968.30 369.00 L968.89 369.00 L969.48 369.00 L970.07 369.00 L970.66 369.00 L971.25 369.00 L971.84 369.00 L972.43 369.00 L973.02 369.00 L973.61 369.00 L974.20 369.00 L974.79 369.00 L975.38 369.00 L975.96 369.00 L976.55 369.00 L977.14 369.00 L977.73 369.00 L978.32 369.00 L978.91 369.00 L979.50 369.00 L979.50 388.60 Z" fill="rgba(249,218,86,0.62)"/><path d="M919.40 384.68 L919.99 384.68 L920.58 384.68 L921.17 384.68 L921.76 384.68 L922.35 384.68 L922.94 384.68 L923.52 384.68 L924.11 384.68 L924.70 384.68 L925.29 384.68 L925.88 384.68 L926.47 384.68 L927.06 384.68 L927.65 384.68 L928.24 384.68 L928.83 384.68 L929.42 384.68 L930.01 381.94 L930.60 380.76 L931.18 380.76 L931.77 380.76 L932.36 380.76 L932.95 380.76 L933.54 380.76 L934.13 380.76 L934.72 380.76 L935.31 380.76 L935.90 380.76 L936.49 380.76 L937.08 380.76 L937.67 380.76 L938.25 380.76 L938.84 380.76 L939.43 380.76 L940.02 380.76 L940.61 378.64 L941.20 376.84 L941.79 376.84 L942.38 376.84 L942.97 376.84 L943.56 376.84 L944.15 376.84 L944.74 376.84 L945.33 376.84 L945.91 376.84 L946.50 376.84 L947.09 376.84 L947.68 376.84 L948.27 376.84 L948.86 376.84 L949.45 376.84 L950.04 376.84 L950.63 376.84 L951.22 375.27 L951.81 372.92 L952.40 372.92 L952.99 372.92 L953.57 372.92 L954.16 372.92 L954.75 372.92 L955.34 372.92 L955.93 372.92 L956.52 372.92 L957.11 372.92 L957.70 372.92 L958.29 372.92 L958.88 372.92 L959.47 372.92 L960.06 372.92 L960.65 372.92 L961.23 372.92 L961.82 371.74 L962.41 369.00 L963.00 369.00 L963.59 369.00 L964.18 369.00 L964.77 369.00 L965.36 369.00 L965.95 369.00 L966.54 369.00 L967.13 369.00 L967.72 369.00 L968.30 369.00 L968.89 369.00 L969.48 369.00 L970.07 369.00 L970.66 369.00 L971.25 369.00 L971.84 369.00 L972.43 369.00 L973.02 369.00 L973.61 369.00 L974.20 369.00 L974.79 369.00 L975.38 369.00 L975.96 369.00 L976.55 369.00 L977.14 369.00 L977.73 369.00 L978.32 369.00 L978.91 369.00 L979.50 369.00" fill="none" stroke="#e8c83a" stroke-width="0.6"/>
<rect x="919.40" y="359.20" width="60.10" height="29.40" fill="none" stroke="#444" stroke-width="1.1"/>
<defs><filter id="cs" x="-50%" y="-50%" width="200%" height="200%"><feGaussianBlur stdDeviation="0.7"/></filter></defs>
<g transform="translate(885.1,165.6)">
<path d="M0 0 L0 11.4 L2.5 9.0 L4.9 14.5 L7.3 13.5 L5.0 8.2 L8.5 8.2 Z" transform="translate(0.2,1.0)" fill="#000" opacity="0.35" filter="url(#cs)"/>
<path d="M0 0 L0 11.4 L2.5 9.0 L4.9 14.5 L7.3 13.5 L5.0 8.2 L8.5 8.2 Z" fill="#000" stroke="#fff" stroke-width="1.5" stroke-linejoin="round" paint-order="stroke"/>
</g>
<rect x="18.35" y="265.35" width="6.0" height="6.2" fill="#fff" stroke="#c6c6c6" stroke-width="0.75"/><rect x="19.20" y="266.20" width="4.3" height="4.5" fill="#8f20d0"/>
<rect x="91.35" y="265.35" width="6.0" height="6.2" fill="#fff" stroke="#c6c6c6" stroke-width="0.75"/><rect x="92.20" y="266.20" width="4.3" height="4.5" fill="#d23c3c"/>
<rect x="165.35" y="265.35" width="6.0" height="6.2" fill="#fff" stroke="#c6c6c6" stroke-width="0.75"/><rect x="166.20" y="266.20" width="4.3" height="4.5" fill="#22a452"/>
<rect x="238.55" y="265.35" width="6.0" height="6.2" fill="#fff" stroke="#c6c6c6" stroke-width="0.75"/><rect x="239.40" y="266.20" width="4.3" height="4.5" fill="#b0d4f0"/>
<rect x="272.35" y="265.35" width="6.0" height="6.2" fill="#fff" stroke="#c6c6c6" stroke-width="0.75"/><rect x="273.20" y="266.20" width="4.3" height="4.5" fill="#edc240"/>
<rect x="18.35" y="552.95" width="6.0" height="6.2" fill="#fff" stroke="#c6c6c6" stroke-width="0.75"/><rect x="19.20" y="553.80" width="4.3" height="4.5" fill="#edc240"/>
<g fill="#565656" transform="translate(0,0)"><rect x="15.2" y="29.2" width="0.9" height="7.5"/><rect x="15.2" y="35.8" width="10.6" height="0.9"/><rect x="17.1" y="33.2" width="1.5" height="1.5"/><rect x="18.6" y="29.7" width="1.7" height="5.0"/><rect x="20.4" y="31.1" width="1.7" height="3.6"/><rect x="22.4" y="29.9" width="1.9" height="4.8"/></g>
<g fill="#565656" transform="translate(0,288)"><rect x="15.2" y="29.2" width="0.9" height="7.5"/><rect x="15.2" y="35.8" width="10.6" height="0.9"/><rect x="17.1" y="33.2" width="1.5" height="1.5"/><rect x="18.6" y="29.7" width="1.7" height="5.0"/><rect x="20.4" y="31.1" width="1.7" height="3.6"/><rect x="22.4" y="29.9" width="1.9" height="4.8"/></g>
</svg>
<div class="yt" style="left:11.5px;top:211.5px;width:40px;">0</div>
<div class="yt" style="left:11.5px;top:184.5px;width:40px;">200</div>
<div class="yt" style="left:11.5px;top:157.5px;width:40px;">400</div>
<div class="yt" style="left:11.5px;top:130.5px;width:40px;">600</div>
<div class="yt" style="left:11.5px;top:103.5px;width:40px;">800</div>
<div class="yt" style="left:11.5px;top:76.5px;width:40px;">1000</div>
<div class="yt" style="left:11.5px;top:49.5px;width:40px;">1200</div>
<div class="xt" style="left:33.0px;top:221.2px;width:60px;">22:28:00</div>
<div class="xt" style="left:81.7px;top:221.2px;width:60px;">22:29:00</div>
<div class="xt" style="left:130.3px;top:221.2px;width:60px;">22:30:00</div>
<div class="xt" style="left:179.0px;top:221.2px;width:60px;">22:31:00</div>
<div class="xt" style="left:227.6px;top:221.2px;width:60px;">22:32:00</div>
<div class="xt" style="left:276.3px;top:221.2px;width:60px;">22:33:00</div>
<div class="xt" style="left:325.0px;top:221.2px;width:60px;">22:34:00</div>
<div class="xt" style="left:373.6px;top:221.2px;width:60px;">22:35:00</div>
<div class="xt" style="left:422.3px;top:221.2px;width:60px;">22:36:00</div>
<div class="xt" style="left:470.9px;top:221.2px;width:60px;">22:37:00</div>
<div class="xt" style="left:519.6px;top:221.2px;width:60px;">22:38:00</div>
<div class="xt" style="left:568.3px;top:221.2px;width:60px;">22:39:00</div>
<div class="xt" style="left:616.9px;top:221.2px;width:60px;">22:40:00</div>
<div class="xt" style="left:665.6px;top:221.2px;width:60px;">22:41:00</div>
<div class="xt" style="left:714.2px;top:221.2px;width:60px;">22:42:00</div>
<div class="xt" style="left:762.9px;top:221.2px;width:60px;">22:43:00</div>
<div class="xt" style="left:811.6px;top:221.2px;width:60px;">22:44:00</div>
<div class="yt" style="left:1.5px;top:500.0px;width:40px;">0</div>
<div class="yt" style="left:1.5px;top:472.9px;width:40px;">10</div>
<div class="yt" style="left:1.5px;top:445.8px;width:40px;">20</div>
<div class="yt" style="left:1.5px;top:418.7px;width:40px;">30</div>
<div class="yt" style="left:1.5px;top:391.6px;width:40px;">40</div>
<div class="yt" style="left:1.5px;top:364.5px;width:40px;">50</div>
<div class="yt" style="left:1.5px;top:337.4px;width:40px;">60</div>
<div class="xt" style="left:23.2px;top:509.4px;width:60px;">22:28:00</div>
<div class="xt" style="left:72.4px;top:509.4px;width:60px;">22:29:00</div>
<div class="xt" style="left:121.7px;top:509.4px;width:60px;">22:30:00</div>
<div class="xt" style="left:170.9px;top:509.4px;width:60px;">22:31:00</div>
<div class="xt" style="left:220.1px;top:509.4px;width:60px;">22:32:00</div>
<div class="xt" style="left:269.4px;top:509.4px;width:60px;">22:33:00</div>
<div class="xt" style="left:318.6px;top:509.4px;width:60px;">22:34:00</div>
<div class="xt" style="left:367.8px;top:509.4px;width:60px;">22:35:00</div>
<div class="xt" style="left:417.0px;top:509.4px;width:60px;">22:36:00</div>
<div class="xt" style="left:466.3px;top:509.4px;width:60px;">22:37:00</div>
<div class="xt" style="left:515.5px;top:509.4px;width:60px;">22:38:00</div>
<div class="xt" style="left:564.7px;top:509.4px;width:60px;">22:39:00</div>
<div class="xt" style="left:614.0px;top:509.4px;width:60px;">22:40:00</div>
<div class="xt" style="left:663.2px;top:509.4px;width:60px;">22:41:00</div>
<div class="xt" style="left:712.4px;top:509.4px;width:60px;">22:42:00</div>
<div class="xt" style="left:761.6px;top:509.4px;width:60px;">22:43:00</div>
<div class="xt" style="left:810.9px;top:509.4px;width:60px;">22:44:00</div>
<div class="al" style="left:368.0px;top:238.4px;width:200px;text-align:center;">Elapsed Time (granularity: 10 sec)</div>
<div class="al" style="left:363.0px;top:525.6px;width:200px;text-align:center;">Elapsed Time (granularity: 10 sec)</div>
<div class="al rot" style="left:18.5px;top:136px;">Response Time in ms</div>
<div class="al rot" style="left:18.5px;top:424px;font-size:6.85px;">Number of active threads</div>
<div class="zm" style="left:902.0px;top:49.5px;">Zoom :</div>
<div class="zm" style="left:902.0px;top:337.5px;">Zoom :</div>
<div class="yt" style="left:883.0px;top:96.3px;width:40px;">0</div>
<div class="yt" style="left:883.0px;top:86.4px;width:40px;">500</div>
<div class="yt" style="left:883.0px;top:76.5px;width:40px;">1000</div>
<div class="yt" style="left:883.0px;top:66.6px;width:40px;">1500</div>
<div class="yt" style="left:873.3px;top:383.9px;width:40px;">0</div>
<div class="yt" style="left:873.3px;top:374.1px;width:40px;">25</div>
<div class="yt" style="left:873.3px;top:364.3px;width:40px;">50</div>
<div class="yt" style="left:873.3px;top:354.5px;width:40px;">75</div>
<div class="xt" style="left:902.2px;top:103.9px;width:60px;">22:30:00</div>
<div class="xt" style="left:934.1px;top:103.9px;width:60px;">22:40:00</div>
<div class="xt" style="left:897.1px;top:391.9px;width:60px;">22:30:00</div>
<div class="xt" style="left:932.4px;top:391.9px;width:60px;">22:40:00</div>
<div class="lg" style="left:26.6px;top:263.6px;">90th percentile</div>
<div class="lg" style="left:99.6px;top:263.6px;">95th percentile</div>
<div class="lg" style="left:173.6px;top:263.6px;">99th percentile</div>
<div class="lg" style="left:247.0px;top:263.6px;">Max</div>
<div class="lg" style="left:281.2px;top:263.6px;">Min</div>
<div class="lg" style="left:26.6px;top:551.4px;">jp@gc - Stepping Thread Group</div>
</body></html>
